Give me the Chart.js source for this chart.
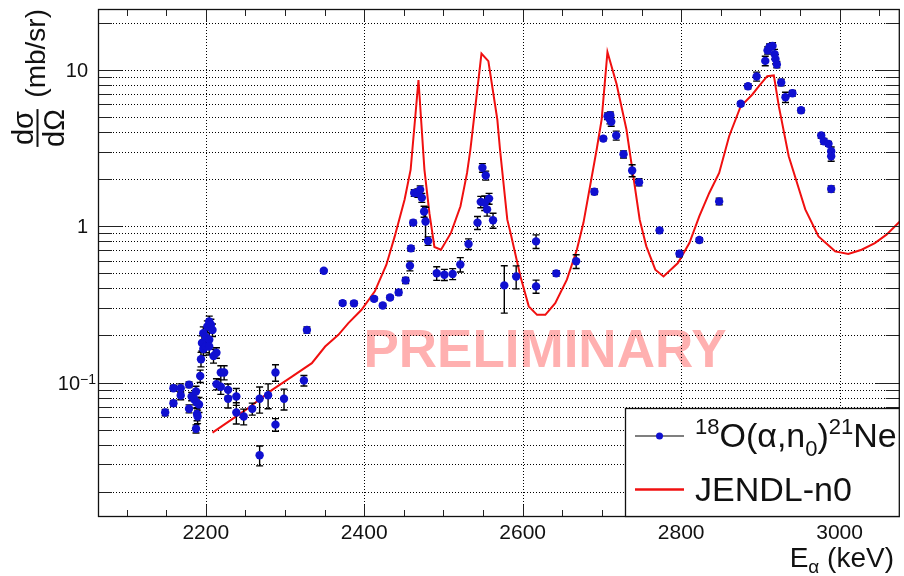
<!DOCTYPE html>
<html>
<head>
<meta charset="utf-8">
<script src="https://cdn.jsdelivr.net/npm/chart.js@4.4.1/dist/chart.umd.min.js"></script>
<style>
  html, body { margin: 0; padding: 0; background: #ffffff; }
  #wrap { width: 904px; height: 576px; position: relative; }
</style>
</head>
<body>
<div id="wrap"><canvas id="c" width="904" height="576"></canvas></div>
<script>
// Measured 18O(a,n0)21Ne differential cross section: alpha energy (keV), dσ/dΩ (mb/sr), uncertainty
const energy = [
  2148.8, 2159.2, 2159.2, 2168.4, 2168.4, 2178.9, 2178.9, 2182.2, 2185.6, 2187.7,
  2188.5, 2189.0, 2189.7, 2187.7, 2191.5, 2193.0, 2194.0, 2195.2, 2196.9, 2196.9,
  2200.2, 2200.2, 2202.0, 2204.4, 2204.4, 2206.5, 2208.5, 2204.4, 2209.8, 2213.5,
  2213.5, 2219.0, 2223.2, 2219.0, 2228.2, 2228.2, 2238.6, 2238.6, 2247.9, 2258.7,
  2268.0, 2268.0, 2278.7, 2288.0, 2288.0, 2298.8, 2323.9, 2327.7, 2349.0, 2372.8,
  2387.1, 2412.5, 2423.4, 2432.6, 2443.5, 2452.3, 2457.7, 2459.0, 2461.8, 2463.1,
  2467.7, 2470.6, 2472.7, 2475.6, 2477.4, 2480.6, 2491.5, 2501.2, 2511.6, 2521.3,
  2531.7, 2543.0, 2547.1, 2549.2, 2553.4, 2552.1, 2557.6, 2555.1, 2562.6, 2576.8,
  2591.8, 2616.9, 2616.9, 2642.4, 2667.5, 2690.5, 2701.8, 2707.2, 2710.6, 2710.1,
  2711.8, 2718.1, 2727.3, 2738.2, 2746.9, 2772.8, 2797.9, 2823.0, 2848.0, 2875.2,
  2884.4, 2895.3, 2906.2, 2909.1, 2911.6, 2915.4, 2917.9, 2919.1, 2920.8, 2926.3,
  2931.7, 2940.5, 2951.4, 2976.8, 2980.2, 2986.0, 2989.4, 2989.4, 2989.4
];
const sigma = [
  0.0643, 0.092, 0.0738, 0.092, 0.0826, 0.097, 0.068, 0.0815, 0.078, 0.0876,
  0.0745, 0.063, 0.0606, 0.0506, 0.0723, 0.110, 0.141, 0.179, 0.164, 0.207,
  0.195, 0.17, 0.228, 0.246, 0.188, 0.234, 0.217, 0.17, 0.148, 0.155,
  0.0977, 0.116, 0.116, 0.094, 0.0898, 0.0787, 0.0815, 0.0643, 0.0606, 0.0679,
  0.0787, 0.0343, 0.083, 0.116, 0.0538, 0.0787, 0.103, 0.217, 0.519, 0.322,
  0.321, 0.343, 0.311, 0.350, 0.377, 0.450, 0.558, 0.721, 1.053, 1.63,
  1.63, 1.71, 1.52, 1.24, 1.07, 0.804, 0.50, 0.489, 0.495, 0.569,
  0.769, 1.053, 1.43, 2.36, 2.11, 1.41, 1.50, 1.28, 1.09, 0.418,
  0.477, 0.799, 0.412, 0.499, 0.596, 1.66, 3.63, 5.05, 5.12, 4.81,
  4.65, 3.80, 2.88, 2.27, 1.91, 0.94, 0.667, 0.815, 1.44, 6.06,
  7.85, 9.06, 11.4, 13.3, 14.0, 14.2, 12.6, 11.7, 10.8, 8.3,
  6.68, 7.08, 5.51, 3.80, 3.49, 3.36, 3.01, 2.80, 1.73
];
const sigmaErr = [
  0.003, 0.004, 0.003, 0.006, 0.005, 0.004, 0.004, 0.005, 0.006, 0.007,
  0.006, 0.006, 0.006, 0.003, 0.008, 0.010, 0.015, 0.020, 0.015, 0.020,
  0.020, 0.015, 0.020, 0.020, 0.020, 0.020, 0.020, 0.020, 0.015, 0.012,
  0.008, 0.012, 0.012, 0.010, 0.008, 0.010, 0.010, 0.010, 0.007, 0.006,
  0.015, 0.005, 0.015, 0.014, 0.005, 0.012, 0.008, 0.010, 0.010, 0.010,
  0.010, 0.010, 0.010, 0.010, 0.015, 0.020, 0.040, 0.030, 0.040, 0.080,
  0.100, 0.100, 0.100, 0.100, 0.250, 0.050, 0.050, 0.040, 0.040, 0.060,
  0.060, 0.100, 0.120, 0.150, 0.140, 0.150, 0.120, 0.120, 0.120, 0.140,
  0.080, 0.080, 0.040, 0.020, 0.060, 0.070, 0.120, 0.250, 0.250, 0.300,
  0.300, 0.250, 0.150, 0.200, 0.100, 0.030, 0.030, 0.030, 0.070, 0.200,
  0.300, 0.600, 0.800, 0.700, 0.600, 0.700, 0.900, 0.800, 0.500, 0.400,
  0.500, 0.300, 0.200, 0.150, 0.150, 0.120, 0.200, 0.200, 0.080
];

// JENDL evaluation, n0 channel
const jendlEnergy = [
  2208.5, 2250.4, 2283.8, 2308.8, 2333.9, 2350.7, 2367.4, 2380.0, 2396.6, 2413.4,
  2428.0, 2438.5, 2451.0, 2458.6, 2468.5, 2476.0, 2482.3, 2488.6, 2496.9, 2509.5,
  2521.5, 2529.8, 2534.0, 2548.0, 2556.7, 2568.0, 2571.4, 2580.6, 2584.7, 2597.2,
  2607.7, 2618.2, 2628.6, 2641.1, 2655.8, 2668.4, 2676.7, 2693.4, 2699.7, 2707.0,
  2718.5, 2731.0, 2747.7, 2756.1, 2767.4, 2777.8, 2795.9, 2810.4, 2823.0, 2835.5,
  2848.0, 2860.6, 2875.2, 2889.9, 2898.2, 2908.7, 2917.0, 2923.3, 2935.8, 2956.7,
  2973.4, 2994.4, 3011.0, 3027.8, 3044.5, 3059.2, 3076.0
];
const jendlSigma = [
  0.0478, 0.0668, 0.0898, 0.109, 0.133, 0.170, 0.202, 0.240, 0.292, 0.383,
  0.567, 0.860, 1.48, 2.30, 8.6, 2.30, 1.21, 0.736, 0.707, 0.905,
  1.34, 2.19, 3.09, 12.7, 11.35, 4.81, 3.09, 1.10, 0.905, 0.477,
  0.307, 0.271, 0.271, 0.322, 0.455, 0.707, 1.05, 3.09, 4.81, 13.0,
  8.1, 4.15, 1.10, 0.743, 0.527, 0.477, 0.581, 0.78, 1.16, 1.63,
  2.19, 3.76, 5.85, 6.95, 7.86, 9.1, 9.2, 5.85, 2.80, 1.28,
  0.86, 0.69, 0.664, 0.707, 0.78, 0.882, 1.07
];

// Axis ranges and tick values
const xRange = [2064, 3076];
const yRange = [0.01381, 24.47];
const xMajorTicks = [2200, 2400, 2600, 2800, 3000];
const xTickLabels = ['2200', '2400', '2600', '2800', '3000'];
const xMinorStep = 50;
const yDecadeTicks = [0.1, 1, 10];
const yTickBase = ['10', '1', '10'];
const yTickExp = ['\u22121', '', ''];

const FONT = '"Liberation Sans", Arial, Helvetica, sans-serif';
const DATA_BLUE = '#1010d0';
const CURVE_RED = '#f01010';

// y grid: 1..9 x each decade inside the range
function yGridValues() {
  const out = [];
  for (const d of [0.01, 0.1, 1, 10]) {
    for (let m = 1; m <= 9; m++) {
      const v = +(m * d).toPrecision(3);
      if (v > yRange[0] && v < yRange[1]) out.push(v);
    }
  }
  return out;
}
function xMinorValues() {
  const out = [];
  const start = Math.ceil(xRange[0] / xMinorStep) * xMinorStep;
  for (let v = start; v < xRange[1]; v += xMinorStep) {
    if (!xMajorTicks.includes(v)) out.push(v);
  }
  return out;
}

// draw a sequence of text runs with their own size and vertical shift
function runsWidth(ctx, runs) {
  let w = 0;
  for (const r of runs) { ctx.font = r.s + 'px ' + FONT; w += ctx.measureText(r.t).width; }
  return w;
}
function drawRuns(ctx, runs, x, y) {
  let cx = x;
  for (const r of runs) {
    ctx.font = r.s + 'px ' + FONT;
    ctx.fillText(r.t, cx, y + (r.dy || 0));
    cx += ctx.measureText(r.t).width;
  }
}

const rootStyle = {
  id: 'rootStyle',
  beforeDatasetsDraw(chart) {
    const { ctx, chartArea: a, scales: { x, y } } = chart;
    ctx.save();
    // watermark
    ctx.font = 'bold 53px ' + FONT;
    ctx.fillStyle = '#ffb0b0';
    ctx.textAlign = 'center';
    ctx.textBaseline = 'alphabetic';
    ctx.fillText('PRELIMINARY', 545, 367);
    // dotted grid
    ctx.strokeStyle = '#000';
    ctx.lineWidth = 1;
    ctx.setLineDash([1, 2]);
    ctx.beginPath();
    for (const v of xMajorTicks) {
      const px = Math.round(x.getPixelForValue(v)) + 0.5;
      ctx.moveTo(px, a.top); ctx.lineTo(px, a.bottom);
    }
    for (const v of yGridValues()) {
      const py = Math.round(y.getPixelForValue(v)) + 0.5;
      ctx.moveTo(a.left, py); ctx.lineTo(a.right, py);
    }
    ctx.stroke();
    ctx.restore();
  },
  beforeDatasetDraw(chart, args) {
    if (args.index !== 0) return;
    const { ctx, chartArea: a, scales: { x, y } } = chart;
    ctx.save();
    ctx.beginPath();
    ctx.rect(a.left, a.top, a.right - a.left, a.bottom - a.top);
    ctx.clip();
    ctx.strokeStyle = '#000';
    ctx.lineWidth = 1.4;
    ctx.beginPath();
    for (let i = 0; i < energy.length; i++) {
      const px = x.getPixelForValue(energy[i]);
      const lo = y.getPixelForValue(Math.max(sigma[i] - sigmaErr[i], yRange[0] * 0.5));
      const hi = y.getPixelForValue(sigma[i] + sigmaErr[i]);
      ctx.moveTo(px, lo); ctx.lineTo(px, hi);
      ctx.moveTo(px - 3.5, lo); ctx.lineTo(px + 3.5, lo);
      ctx.moveTo(px - 3.5, hi); ctx.lineTo(px + 3.5, hi);
    }
    ctx.stroke();
    ctx.restore();
  },
  afterDatasetsDraw(chart) {
    const { ctx, chartArea: a, scales: { x, y } } = chart;
    ctx.save();
    ctx.setLineDash([]);
    // tick marks inside the frame on all four sides
    ctx.strokeStyle = '#222';
    ctx.lineWidth = 1;
    ctx.beginPath();
    const tickX = (v, len) => {
      const px = Math.round(x.getPixelForValue(v)) + 0.5;
      ctx.moveTo(px, a.bottom); ctx.lineTo(px, a.bottom - len);
      ctx.moveTo(px, a.top); ctx.lineTo(px, a.top + len);
    };
    xMajorTicks.forEach(v => tickX(v, 12));
    xMinorValues().forEach(v => tickX(v, 7));
    for (const v of yGridValues()) {
      const len = yDecadeTicks.includes(v) ? 24 : 14;
      const py = Math.round(y.getPixelForValue(v)) + 0.5;
      ctx.moveTo(a.left, py); ctx.lineTo(a.left + len, py);
      ctx.moveTo(a.right, py); ctx.lineTo(a.right - len, py);
    }
    ctx.stroke();
    // frame
    ctx.strokeStyle = '#111';
    ctx.lineWidth = 1.3;
    ctx.strokeRect(a.left + 0.5, a.top + 0.5, a.right - a.left - 1, a.bottom - a.top - 1);

    ctx.fillStyle = '#111';
    // x tick labels
    ctx.font = '21px ' + FONT;
    ctx.textAlign = 'center';
    ctx.textBaseline = 'alphabetic';
    xMajorTicks.forEach((v, i) => ctx.fillText(xTickLabels[i], x.getPixelForValue(v), a.bottom + 22));
    // y tick labels, exponent drawn as superscript
    ctx.textAlign = 'left';
    yDecadeTicks.forEach((v, i) => {
      const py = y.getPixelForValue(v);
      const runs = [{ t: yTickBase[i], s: 20, dy: 0 }];
      if (yTickExp[i]) runs.push({ t: yTickExp[i], s: 14, dy: -6 });
      const baseW = runsWidth(ctx, [runs[0]]);
      const x0 = yTickExp[i] ? 80 - baseW : 88 - baseW;
      drawRuns(ctx, runs, x0, py + 7);
    });
    // x axis title, right aligned
    const xt = [{ t: 'E', s: 28 }, { t: '\u03b1', s: 19, dy: 6 }, { t: ' (keV)', s: 28 }];
    drawRuns(ctx, xt, 894 - runsWidth(ctx, xt), 567);
    // y axis title, rotated, aligned to the top of the frame
    ctx.save();
    ctx.rotate(-Math.PI / 2);
    ctx.font = '28px ' + FONT;
    const unit = '(mb/sr)';
    const uw = ctx.measureText(unit).width;
    ctx.fillText(unit, -9 - uw, 45);
    const cy = 128;
    ctx.font = '29px ' + FONT;
    const nw = ctx.measureText('d\u03c3').width;
    const dw = ctx.measureText('d\u03a9').width;
    ctx.fillText('d\u03c3', -cy - nw / 2, 33);
    ctx.fillText('d\u03a9', -cy - dw / 2, 64);
    ctx.fillRect(-cy - Math.max(nw, dw) / 2, 36.5, Math.max(nw, dw), 2);
    ctx.restore();

    // legend
    const lx = 625, ly = 408, lw = a.right - lx, lh = a.bottom - ly;
    ctx.fillStyle = '#fff';
    ctx.fillRect(lx, ly, lw, lh);
    ctx.strokeStyle = '#111';
    ctx.lineWidth = 1.3;
    ctx.strokeRect(lx + 0.5, ly + 0.5, lw - 1, lh - 1);
    ctx.strokeStyle = '#000';
    ctx.lineWidth = 1.2;
    ctx.beginPath(); ctx.moveTo(635, 436); ctx.lineTo(684, 436); ctx.stroke();
    ctx.fillStyle = DATA_BLUE;
    ctx.beginPath(); ctx.arc(659.5, 436, 3.5, 0, Math.PI * 2); ctx.fill();
    ctx.strokeStyle = CURVE_RED;
    ctx.lineWidth = 2.5;
    ctx.beginPath(); ctx.moveTo(635, 489.5); ctx.lineTo(684, 489.5); ctx.stroke();
    ctx.fillStyle = '#111';
    drawRuns(ctx, [
      { t: '18', s: 22, dy: -13 }, { t: 'O(\u03b1,n', s: 34 }, { t: '0', s: 22, dy: 9 },
      { t: ')', s: 34 }, { t: '21', s: 22, dy: -13 }, { t: 'Ne', s: 34 }
    ], 695, 447);
    drawRuns(ctx, [{ t: 'JENDL-n0', s: 34 }], 695, 501);
    ctx.restore();
  }
};

const chart = new Chart(document.getElementById('c'), {
  type: 'scatter',
  data: {
    datasets: [
      {
        label: '18O(a,n0)21Ne',
        data: energy.map((e, i) => ({ x: e, y: sigma[i] })),
        pointRadius: 4.2,
        pointBackgroundColor: DATA_BLUE,
        pointBorderWidth: 0,
        showLine: false
      },
      {
        label: 'JENDL-n0',
        data: jendlEnergy.map((e, i) => ({ x: e, y: jendlSigma[i] })),
        showLine: true,
        borderColor: CURVE_RED,
        borderWidth: 2,
        pointRadius: 0,
        tension: 0,
        fill: false
      }
    ]
  },
  options: {
    responsive: false,
    animation: false,
    devicePixelRatio: 1,
    layout: { padding: { left: 0, right: 1, top: 9, bottom: 0 } },
    plugins: { legend: { display: false }, tooltip: { enabled: false } },
    scales: {
      x: {
        type: 'linear', min: xRange[0], max: xRange[1],
        grid: { display: false }, border: { display: false },
        ticks: { display: false },
        afterFit: s => { s.height = 59; }
      },
      y: {
        type: 'logarithmic', min: yRange[0], max: yRange[1],
        grid: { display: false }, border: { display: false },
        ticks: { display: false },
        afterFit: s => { s.width = 98; }
      }
    }
  },
  plugins: [rootStyle]
});
</script>
</body>
</html>
